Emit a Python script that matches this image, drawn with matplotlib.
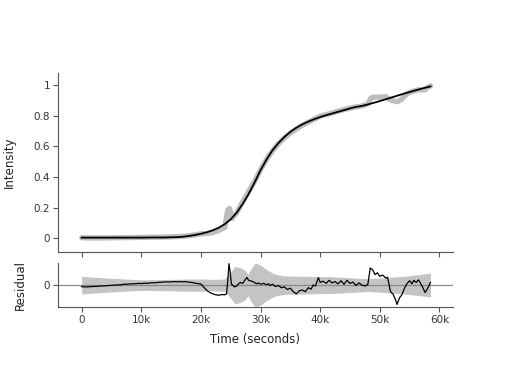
import matplotlib.pyplot as plt
from matplotlib.ticker import FuncFormatter

# fitted curve (seconds, intensity)
fit_t = [0, 2000, 4000, 6000, 8000, 10000, 12000, 14000, 16000, 17000, 18000, 19000,
         20000, 21000, 22000, 23000, 24000, 25000, 26000, 27000, 28000, 29000, 30000,
         31000, 32000, 33000, 34000, 35000, 36000, 37000, 38000, 39000, 40000, 41000,
         42000, 43000, 44000, 45000, 46000, 47000, 48000, 49000, 50000, 51000, 52000,
         53000, 54000, 55000, 56000, 57000, 58000, 58500]
fit_y = [0.005, 0.005, 0.005, 0.005, 0.005, 0.005, 0.006, 0.006, 0.008, 0.011, 0.016, 0.022,
         0.030, 0.040, 0.053, 0.070, 0.093, 0.125, 0.168, 0.225, 0.290, 0.365, 0.445,
         0.515, 0.575, 0.622, 0.662, 0.695, 0.722, 0.744, 0.762, 0.778, 0.792, 0.804,
         0.815, 0.826, 0.837, 0.848, 0.858, 0.864, 0.874, 0.885, 0.896, 0.908, 0.920,
         0.932, 0.944, 0.955, 0.966, 0.977, 0.987, 0.992]

# measured intensity
data_t = [0, 1000, 2000, 3000, 4000, 5000, 6000, 7000, 8000, 9000, 10000, 11000, 12000,
          13000, 14000, 15000, 16000, 17000, 18000, 19000, 20000, 21000, 22000, 23000,
          24000, 24500, 24800, 25200, 26000, 27000, 28000, 29000, 30000, 31000, 32000,
          33000, 34000, 35000, 36000, 37000, 38000, 39000, 40000, 41000, 42000, 43000,
          44000, 45000, 46000, 47000, 48000, 48500, 49000, 50000, 51000, 51700, 52500,
          53000, 53700, 54600, 55500, 56500, 57500, 58000, 58500]
data_y = [0.004, 0.003, 0.003, 0.003, 0.003, 0.004, 0.004, 0.005, 0.005, 0.006, 0.006,
          0.007, 0.008, 0.008, 0.009, 0.010, 0.012, 0.014, 0.018, 0.023, 0.030, 0.032,
          0.038, 0.052, 0.072, 0.185, 0.195, 0.130, 0.168, 0.238, 0.305, 0.372, 0.448,
          0.515, 0.572, 0.618, 0.656, 0.688, 0.714, 0.738, 0.758, 0.778, 0.797, 0.808,
          0.818, 0.830, 0.840, 0.850, 0.858, 0.864, 0.878, 0.915, 0.922, 0.922, 0.925,
          0.905, 0.895, 0.892, 0.910, 0.945, 0.960, 0.970, 0.968, 0.985, 0.995]

# residual
res_t = [0, 500, 1000, 1500, 2000, 2500, 3000, 3500, 4000, 4500, 5000, 5500, 6000, 6500,
         7000, 7500, 8000, 8500, 9000, 9500, 10000, 10500, 11000, 11500, 12000, 12500,
         13000, 13500, 14000, 14500, 15000, 15500, 16000, 16500, 17000, 17500, 18000,
         18500, 19000, 19500, 20000, 20500, 21000, 21500, 22000, 22500, 23000, 23500,
         24000, 24300, 24500, 24700, 24900, 25100, 25400, 25600, 26000, 26300, 26600,
         27000, 27300, 27700, 28000, 28500, 29000, 29300, 29600, 30000, 30500, 31000,
         31300, 31600, 32000, 32500, 33000, 33500, 34000, 34500, 35000, 35500, 36000,
         36500, 37000, 37500, 38000, 38500, 38800, 39200, 39700, 40000, 40500, 41000,
         41500, 42000, 42500, 43000, 43500, 44000, 44500, 45000, 45500, 46000, 46500,
         47000, 47600, 48000, 48400, 48800, 49200, 49600, 50000, 50500, 51000, 51300,
         51800, 52200, 52600, 52900, 53300, 53700, 54200, 54600, 55000, 55400, 55700,
         56100, 56500, 56800, 57200, 57600, 58000, 58500]
res_y = [-0.007, -0.008, -0.008, -0.007, -0.006, -0.006, -0.004, -0.004, -0.003, -0.002,
         -0.001, 0.000, 0.001, 0.001, 0.004, 0.004, 0.005, 0.006, 0.006, 0.008, 0.007,
         0.009, 0.008, 0.010, 0.011, 0.011, 0.013, 0.013, 0.015, 0.014, 0.015, 0.016,
         0.015, 0.016, 0.015, 0.016, 0.013, 0.012, 0.009, 0.007, 0.005, -0.010, -0.024,
         -0.034, -0.040, -0.044, -0.046, -0.043, -0.044, -0.040, 0.020, 0.098, 0.060,
         0.005, -0.002, -0.008, -0.004, 0.006, 0.012, 0.008, 0.020, 0.035, 0.022, 0.018,
         0.012, 0.006, 0.010, 0.004, 0.008, 0.002, 0.006, -0.002, 0.004, -0.006, -0.002,
         -0.012, -0.008, -0.020, -0.014, -0.030, -0.040, -0.026, -0.022, -0.030, -0.012,
         -0.018, 0.000, -0.004, 0.034, 0.012, 0.018, 0.008, 0.022, 0.010, 0.016, 0.006,
         0.020, 0.004, 0.022, 0.008, 0.014, -0.002, 0.010, 0.000, -0.004, 0.004, 0.078,
         0.070, 0.048, 0.056, 0.040, 0.046, 0.032, 0.036, -0.030, -0.040, -0.064, -0.088,
         -0.058, -0.044, -0.010, 0.008, 0.020, 0.006, 0.022, 0.012, 0.024, 0.010, -0.010,
         -0.034, -0.016, 0.012]

# uncertainty band half-width for the residual
band_t = [0, 5000, 10000, 15000, 18000, 20000, 22000, 24000, 25000, 25700, 26500, 27400,
          27900, 28400, 29100, 30000, 30800, 31800, 32700, 34000, 38000, 42000, 46000,
          48000, 50000, 54000, 58500]
band_w = [0.040, 0.031, 0.024, 0.026, 0.028, 0.028, 0.026, 0.028, 0.060, 0.085, 0.080,
          0.068, 0.048, 0.075, 0.100, 0.092, 0.074, 0.058, 0.048, 0.042, 0.040, 0.038,
          0.032, 0.029, 0.032, 0.040, 0.054]

GREY = "#bdbdbd"
SPINE = "#555555"


def k_format(v, _):
    return "0" if v == 0 else "%dk" % round(v / 1000)


fig = plt.figure(figsize=(5.12, 3.66), dpi=100)
ax = fig.add_axes([0.113, 0.311, 0.772, 0.489])
ax_r = fig.add_axes([0.113, 0.161, 0.772, 0.120], sharex=ax)

ax.plot(data_t, data_y, color=GREY, lw=3.8, solid_capstyle="round", solid_joinstyle="round")
ax.plot(fit_t, fit_y, color="black", lw=1.3)
ax.set_xlim(-4000, 62300)
ax.set_ylim(-0.09, 1.078)
ax.set_yticks([0, 0.2, 0.4, 0.6, 0.8, 1])
ax.set_yticklabels(["0", "0.2", "0.4", "0.6", "0.8", "1"])
ax.set_ylabel("Intensity", fontsize=8.5, color="#222222")
ax.yaxis.set_label_coords(-0.106, 0.5)
ax.tick_params(axis="x", labelbottom=False)

lo = [-w for w in band_w]
ax_r.fill_between(band_t, lo, band_w, color="#c4c4c4", lw=0)
ax_r.axhline(0, color="#888888", lw=0.9)
ax_r.plot(res_t, res_y, color="black", lw=0.9)
ax_r.set_ylim(-0.1, 0.1)
ax_r.set_yticks([0])
ax_r.set_yticklabels(["0"])
ax_r.set_ylabel("Residual", fontsize=8.5, color="#222222")
ax_r.yaxis.set_label_coords(-0.078, 0.5)
ax_r.set_xticks([0, 10000, 20000, 30000, 40000, 50000, 60000])
ax_r.xaxis.set_major_formatter(FuncFormatter(k_format))
ax_r.set_xlabel("Time (seconds)", fontsize=8.5, color="#222222", labelpad=6)

for a in (ax, ax_r):
    a.spines["top"].set_visible(False)
    a.spines["right"].set_visible(False)
    a.spines["left"].set_color(SPINE)
    a.spines["bottom"].set_color(SPINE)
    a.tick_params(direction="out", length=3.5, width=0.8, color=SPINE,
                  labelsize=7.5, labelcolor="#333333", pad=2)

fig.savefig("out.png", dpi=100)
